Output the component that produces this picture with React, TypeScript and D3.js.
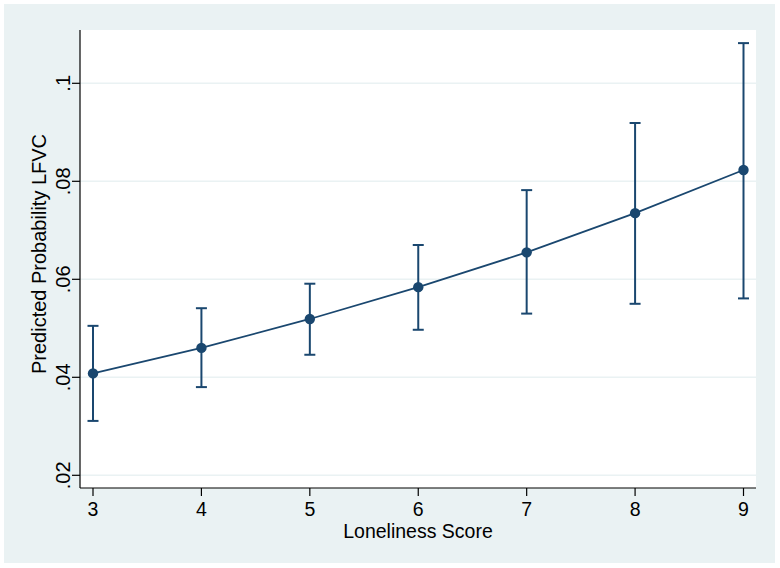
import React, { useEffect, useRef } from "react";
import * as d3 from "d3";

// Loneliness score categories
const scores = [3, 4, 5, 6, 7, 8, 9];
// predicted probability and 95% CI bounds
const predicted = [0.0408, 0.046, 0.0519, 0.0584, 0.0655, 0.0735, 0.0823];
const lower = [0.0311, 0.038, 0.0446, 0.0497, 0.053, 0.055, 0.0561];
const upper = [0.0505, 0.0541, 0.0591, 0.067, 0.0782, 0.0919, 0.1082];
const yTicks = [0.02, 0.04, 0.06, 0.08, 0.1];
const yTickLabels = [".02", ".04", ".06", ".08", ".1"];

const App: React.FC = () => {
  const svgRef = useRef<SVGSVGElement | null>(null);

  useEffect(() => {
    if (svgRef.current) {
      drawChart();
    }
  }, []);

  const drawChart = () => {
    const width = 780;
    const height = 568;
    const navy = "#1a476f";
    const bg = "#eaf2f3";
    const font = "'Liberation Sans', Arial, sans-serif";

    // plot region edges
    const left = 80;
    const right = 756;
    const top = 30;
    const bottom = 488;

    const svg = d3.select(svgRef.current);
    svg.selectAll("*").remove();
    svg.attr("width", width).attr("height", height);

    svg.append("rect").attr("width", width).attr("height", height).attr("fill", "#fff");
    // graph region
    svg
      .append("rect")
      .attr("x", 4)
      .attr("y", 4)
      .attr("width", 771)
      .attr("height", 559)
      .attr("fill", bg);
    // plot region
    svg
      .append("rect")
      .attr("x", left)
      .attr("y", top)
      .attr("width", right - left)
      .attr("height", bottom - top)
      .attr("fill", "#fff");

    const x = d3.scaleLinear().domain([3, 9]).range([93, 743.5]);
    const y = d3.scaleLinear().domain([0.02, 0.1]).range([475.3, 83.3]);

    // gridlines
    svg
      .append("g")
      .selectAll("line")
      .data(yTicks)
      .join("line")
      .attr("x1", left)
      .attr("x2", right)
      .attr("y1", (d) => y(d))
      .attr("y2", (d) => y(d))
      .attr("stroke", bg)
      .attr("stroke-width", 1.6);

    // axes
    const yAxis = svg.append("g");
    yAxis
      .append("line")
      .attr("x1", left)
      .attr("x2", left)
      .attr("y1", top)
      .attr("y2", bottom)
      .attr("stroke", "#000")
      .attr("stroke-width", 1.2);
    yAxis
      .selectAll("line.tick")
      .data(yTicks)
      .join("line")
      .attr("class", "tick")
      .attr("x1", left - 8)
      .attr("x2", left)
      .attr("y1", (d) => y(d))
      .attr("y2", (d) => y(d))
      .attr("stroke", "#000")
      .attr("stroke-width", 1.2);
    yAxis
      .selectAll("text")
      .data(yTicks)
      .join("text")
      .attr("transform", (d) => `translate(70,${y(d)}) rotate(-90)`)
      .attr("text-anchor", "middle")
      .style("font-family", font)
      .style("font-size", "20px")
      .style("fill", "#000")
      .text((d, i) => yTickLabels[i]);

    const xAxis = svg.append("g");
    xAxis
      .append("line")
      .attr("x1", left)
      .attr("x2", right)
      .attr("y1", bottom)
      .attr("y2", bottom)
      .attr("stroke", "#000")
      .attr("stroke-width", 1.2);
    xAxis
      .selectAll("line.tick")
      .data(scores)
      .join("line")
      .attr("class", "tick")
      .attr("x1", (d) => x(d))
      .attr("x2", (d) => x(d))
      .attr("y1", bottom)
      .attr("y2", bottom + 8)
      .attr("stroke", "#000")
      .attr("stroke-width", 1.2);
    xAxis
      .selectAll("text")
      .data(scores)
      .join("text")
      .attr("x", (d) => x(d))
      .attr("y", 516)
      .attr("text-anchor", "middle")
      .style("font-family", font)
      .style("font-size", "19.5px")
      .style("fill", "#000")
      .text((d) => String(d));

    // axis titles
    svg
      .append("text")
      .attr("x", (left + right) / 2)
      .attr("y", 538)
      .attr("text-anchor", "middle")
      .style("font-family", font)
      .style("font-size", "19.5px")
      .style("fill", "#000")
      .text("Loneliness Score");

    svg
      .append("text")
      .attr("transform", `translate(46,254) rotate(-90)`)
      .attr("text-anchor", "middle")
      .style("font-family", font)
      .style("font-size", "20px")
      .style("fill", "#000")
      .text("Predicted Probability LFVC");

    // error bars
    const bars = svg.append("g").attr("stroke", navy).attr("stroke-width", 2).attr("fill", "none");
    scores.forEach((s, i) => {
      const cx = x(s);
      bars
        .append("line")
        .attr("x1", cx)
        .attr("x2", cx)
        .attr("y1", y(lower[i]))
        .attr("y2", y(upper[i]));
      [lower[i], upper[i]].forEach((v) => {
        bars
          .append("line")
          .attr("x1", cx - 5.5)
          .attr("x2", cx + 5.5)
          .attr("y1", y(v))
          .attr("y2", y(v));
      });
    });

    // connecting line
    const line = d3
      .line<number>()
      .x((d, i) => x(scores[i]))
      .y((d) => y(d));
    svg
      .append("path")
      .datum(predicted)
      .attr("d", line)
      .attr("fill", "none")
      .attr("stroke", navy)
      .attr("stroke-width", 1.8);

    svg
      .append("g")
      .selectAll("circle")
      .data(predicted)
      .join("circle")
      .attr("cx", (d, i) => x(scores[i]))
      .attr("cy", (d) => y(d))
      .attr("r", 5.2)
      .attr("fill", navy);
  };

  return (
    <div style={{ position: "absolute", left: 0, top: 0 }}>
      <svg ref={svgRef} style={{ display: "block" }}></svg>
    </div>
  );
};

export default App;
